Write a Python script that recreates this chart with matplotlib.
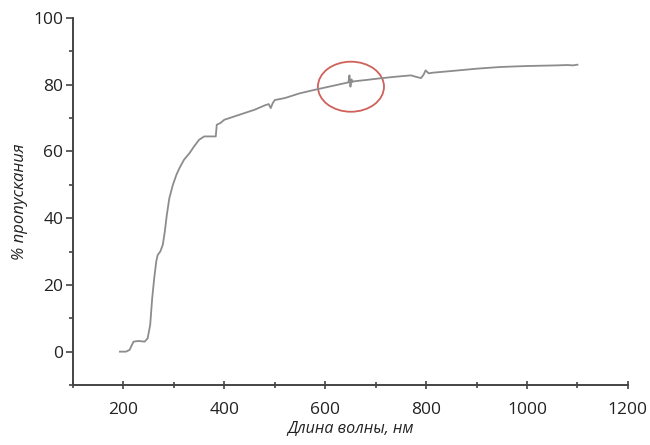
import matplotlib
matplotlib.use("Agg")
import matplotlib.pyplot as plt
from matplotlib.patches import Ellipse
from matplotlib.ticker import MultipleLocator

wavelength = [193, 205, 212, 220, 230, 242, 248, 253, 257, 261, 265, 268, 273, 278, 282, 286, 291, 298, 305,
              311, 320, 331, 340, 350, 360, 372, 383, 385, 392, 400, 420, 440, 460, 480, 488, 492, 496, 500,
              520, 549, 580, 610, 640, 646, 648, 650, 652, 654, 656, 680, 708, 740, 770, 784, 790, 795, 799,
              805, 813, 850, 900, 946, 980, 1000, 1030, 1060, 1080, 1091, 1100]
transmission = [0, 0, 0.5, 3, 3.2, 3, 4, 8, 16, 22, 27, 29, 30, 32, 36, 41, 46, 50, 53,
                55, 57.5, 59.5, 61.5, 63.5, 64.5, 64.5, 64.5, 68, 68.5, 69.5, 70.5, 71.5, 72.5, 73.8, 74.2, 73, 74.5, 75.4,
                76, 77.4, 78.5, 79.5, 80.5, 80.7, 82.8, 79.4, 81.6, 80.8, 81, 81.4, 81.9, 82.4, 82.8, 82.2, 82, 83, 84.3,
                83.4, 83.6, 84.1, 84.8, 85.3, 85.5, 85.6, 85.7, 85.8, 85.9, 85.8, 86.0]

x_ticks = [200, 400, 600, 800, 1000, 1200]
y_ticks = [0, 20, 40, 60, 80, 100]
x_label = "Длина волны, нм"
y_label = "% пропускания"
circle_center = (651, 79.4)
circle_size = (131, 15)

plt.rcParams['font.family'] = ['Open Sans', 'DejaVu Sans']

fig = plt.figure(figsize=(6.5, 4.45), dpi=100)
ax = fig.add_axes([0.1123, 0.1348, 0.8537, 0.8248])

ax.plot(wavelength, transmission, color='#8c8c8c', lw=1.3)
ax.add_patch(Ellipse(circle_center, circle_size[0], circle_size[1], fill=False,
                     edgecolor='#d0605a', lw=1.3))

ax.set_xlim(100, 1200)
ax.set_ylim(-10, 100)
ax.set_xticks(x_ticks)
ax.set_yticks(y_ticks)
ax.xaxis.set_minor_locator(MultipleLocator(100))
ax.yaxis.set_minor_locator(MultipleLocator(10))

for s in ['top', 'right']:
    ax.spines[s].set_visible(False)
for s in ['left', 'bottom']:
    ax.spines[s].set_color('#444444')
    ax.spines[s].set_linewidth(1.4)

ax.tick_params(axis='both', which='major', labelsize=12.5, color='#444444', width=1.2, labelcolor='#222222')
ax.tick_params(axis='y', which='major', direction='out', length=5, pad=2)
ax.tick_params(axis='y', which='minor', direction='out', length=3, width=1.2, color='#444444')
ax.tick_params(axis='x', which='major', direction='inout', length=6, pad=9)
ax.tick_params(axis='x', which='minor', direction='inout', length=4, width=1.2, color='#444444')

ax.set_xlabel(x_label, fontsize=11.5, style='italic', color='#222222', labelpad=2)
ax.set_ylabel(y_label, fontsize=12, style='italic', color='#222222', labelpad=4)

fig.savefig("out.png", dpi=100)
